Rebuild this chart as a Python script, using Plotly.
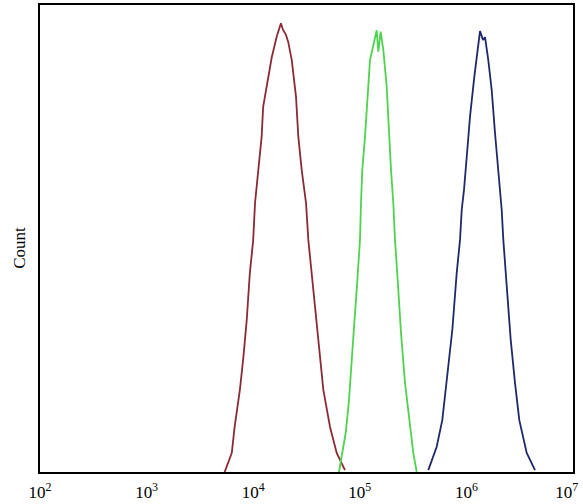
import plotly.graph_objects as go

# Fluorescence intensity (x) and event counts (y)
red_x = [5400, 6300, 6700, 7500, 8100, 8700, 9300, 10000, 10400, 11200, 12000, 12400, 12900,
         14900, 16600, 18200, 19000, 20300, 21300, 23000, 25200, 26500, 28500, 31300, 32900,
         35400, 38800, 41700, 45500, 52500, 60700, 72600]
red_y = [0, 4.1, 9.7, 17.6, 24.7, 32.6, 42.6, 49.7, 57.6, 64.7, 71.8, 78.2, 80.4, 88.7, 93.2,
         96.1, 94.7, 93.6, 92.1, 88.2, 80.4, 71.8, 64.7, 57.6, 49.7, 42.6, 32.6, 26.1, 17.6,
         9.7, 4.1, 0.4]

green_x = [63800, 66600, 73800, 79200, 84000, 88800, 93500, 100400, 102600, 105600, 111900,
           116100, 124600, 144100, 149100, 157000, 166200, 178800, 187900, 196200, 206200,
           213900, 226700, 243500, 265500, 295800, 317600, 341900]
green_y = [0, 2.6, 8.4, 15.4, 24.7, 31.9, 39.0, 49.7, 57.6, 64.7, 71.8, 78.2, 88.2, 94.6, 90.0,
           94.3, 90.4, 82.5, 71.8, 64.7, 57.6, 49.7, 41.1, 29.8, 19.1, 9.7, 4.1, 0]

blue_x = [439100, 526500, 594000, 653500, 737600, 810900, 871000, 903500, 949500, 1019500,
          1081000, 1186000, 1293000, 1342000, 1432000, 1495000, 1605000, 1727000, 1855000,
          1992000, 2144000, 2220000, 2420000, 2604000, 2857000, 3135000, 3679000, 4401000]
blue_y = [0.4, 5.4, 11.1, 19.1, 30.4, 42.6, 49.7, 56.1, 60.4, 68.9, 76.1, 84.6, 91.1, 94.4,
          92.5, 93.1, 88.2, 81.8, 72.6, 64.7, 56.1, 49.7, 39.0, 28.3, 19.1, 11.1, 4.1, 0.4]

tick_vals = [1e2, 1e3, 1e4, 1e5, 1e6, 1e7]
tick_text = ["10<sup>2</sup>", "10<sup>3</sup>", "10<sup>4</sup>", "10<sup>5</sup>",
             "10<sup>6</sup>", "10<sup>7</sup>&nbsp;&nbsp;&nbsp;"]

fig = go.Figure()
fig.add_trace(go.Scatter(x=red_x, y=red_y, mode="lines",
                         line=dict(color="#8a2a35", width=1.8), showlegend=False))
fig.add_trace(go.Scatter(x=green_x, y=green_y, mode="lines",
                         line=dict(color="#4fd24f", width=1.8), showlegend=False))
fig.add_trace(go.Scatter(x=blue_x, y=blue_y, mode="lines",
                         line=dict(color="#20286a", width=1.8), showlegend=False))

serif = "Liberation Serif, DejaVu Serif, serif"
fig.update_layout(
    width=583, height=504,
    margin=dict(l=40, r=10, t=5, b=32),
    paper_bgcolor="white", plot_bgcolor="white",
    xaxis=dict(type="log", range=[2, 7], tickvals=tick_vals, ticktext=tick_text,
               showgrid=False, zeroline=False, showline=True, linecolor="black",
               linewidth=1.5, mirror=True, ticks="", ticklabelstandoff=4,
               automargin=False, ticklabeloverflow="allow",
               tickfont=dict(family=serif, size=17, color="black")),
    yaxis=dict(range=[0, 100], showgrid=False, zeroline=False, showline=True,
               linecolor="black", linewidth=1.5, mirror=True, ticks="",
               showticklabels=False, automargin=False),
    annotations=[dict(text="Count", xref="paper", yref="paper", x=-0.0375, y=0.48,
                      xanchor="center", yanchor="middle",
                      showarrow=False, textangle=-90,
                      font=dict(family=serif, size=17, color="black"))],
)

fig.write_html("out.html", config={"displayModeBar": False},
               post_script="document.body.style.margin='0';document.body.style.overflow='hidden';")
